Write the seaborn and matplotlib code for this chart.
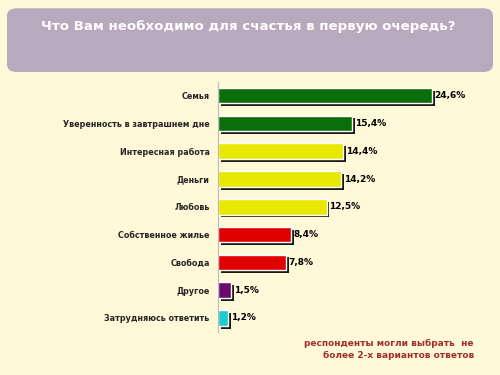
import matplotlib
matplotlib.use("Agg")
import matplotlib.pyplot as plt
import matplotlib.patheffects as pe
from matplotlib.patches import FancyBboxPatch
import pandas as pd
import seaborn as sns

# chart data
categories = [
    "Семья",
    "Уверенность в завтрашнем дне",
    "Интересная работа",
    "Деньги",
    "Любовь",
    "Собственное жилье",
    "Свобода",
    "Другое",
    "Затрудняюсь ответить",
]
values = [24.6, 15.4, 14.4, 14.2, 12.5, 8.4, 7.8, 1.5, 1.2]
bar_colors = ["#0a6e0a", "#0a6e0a", "#e8e800", "#e8e800", "#e8e800",
              "#e00000", "#e00000", "#6a0a6a", "#1ecccc"]
title = "Что Вам необходимо для счастья в первую очередь?"
note = "респонденты могли выбрать  не\nболее 2-х вариантов ответов"

bg = "#fff9d9"

df = pd.DataFrame({"category": categories, "value": values})

sns.set_style("white")
plt.rcParams["font.family"] = ["DejaVu Sans"]

fig = plt.figure(figsize=(5, 3.75), dpi=100, facecolor=bg)

# title box
box = FancyBboxPatch((0.014, 0.808), 0.972, 0.17,
                     boxstyle="round,pad=0,rounding_size=0.02",
                     transform=fig.transFigure, facecolor="#b7a9be",
                     edgecolor="none")
fig.patches.append(box)
fig.text(0.496, 0.93, title, ha="center", va="center", color="white",
         fontsize=9.6, fontweight="bold")

ax = fig.add_axes([0.436, 0.115, 0.487, 0.667])
ax.set_facecolor(bg)
sns.barplot(data=df, x="value", y="category", hue="category",
            palette=bar_colors, saturation=1, legend=False, width=0.56,
            ax=ax)

shadow = [pe.SimplePatchShadow(offset=(2, -2), shadow_rgbFace="black",
                               alpha=0.9), pe.Normal()]
for patch in ax.patches:
    patch.set_path_effects(shadow)

for i, v in enumerate(values):
    ax.text(v + 0.3, i, f"{v:.1f}%".replace(".", ","), va="center",
            ha="left", fontsize=6.5, fontweight="bold", color="black")

ax.set_xlim(0, 28)
ax.set_ylim(8.5, -0.5)
ax.set_xlabel("")
ax.set_ylabel("")
ax.set_xticks([])
ax.set_yticks([i - 0.5 for i in range(10)], minor=True)
ax.tick_params(axis="y", which="minor", length=3, color="#bbbbbb", width=0.6)
ax.tick_params(axis="y", which="major", length=0, pad=6, labelsize=5.8)
for lbl in ax.get_yticklabels():
    lbl.set_fontweight("bold")
for s in ["top", "right", "bottom"]:
    ax.spines[s].set_visible(False)
ax.spines["left"].set_color("#bbbbbb")
ax.spines["left"].set_linewidth(0.8)

fig.text(0.948, 0.068, note, ha="right", va="center", color="#a0302a",
         fontsize=6.5, fontweight="bold", linespacing=1.5)

fig.savefig("out.png", dpi=100, facecolor=bg)
